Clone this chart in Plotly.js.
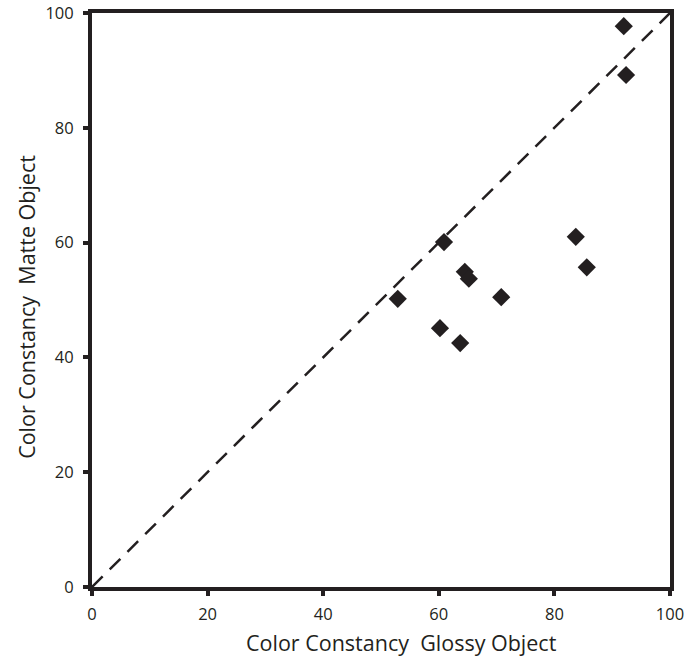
<!DOCTYPE html>
<html>
<head>
<meta charset="utf-8">
<script src="https://cdn.plot.ly/plotly-3.0.1.min.js"></script>
<style>html,body{margin:0;padding:0;background:#fff;}</style>
</head>
<body>
<div id="chart" style="width:697px;height:658px;"></div>
<script>
const glossy = [92.0, 92.4, 60.9, 83.7, 85.6, 64.5, 65.2, 70.8, 52.9, 60.2, 63.7];
const matte  = [97.7, 89.2, 60.1, 61.0, 55.7, 54.9, 53.7, 50.5, 50.2, 45.1, 42.5];
const identityLine = [0, 100];
const tickVals = [0, 20, 40, 60, 80, 100];
const xTitle = 'Color Constancy  Glossy Object';
const yTitle = 'Color Constancy  Matte Object';

const ink = '#231f20';
const font = {family: '"Open Sans", "Liberation Sans", sans-serif', color: ink};

const traces = [
  {x: identityLine, y: identityLine, mode: 'lines', type: 'scatter',
   line: {color: ink, width: 2.5, dash: '15px,10px'}, hoverinfo: 'skip'},
  {x: glossy, y: matte, mode: 'markers', type: 'scatter',
   marker: {symbol: 'diamond', size: 14, color: ink}}
];

const axisCommon = {
  range: [0, 100], tickvals: tickVals, showgrid: false, zeroline: false,
  showline: true, linecolor: ink, linewidth: 4, mirror: true,
  ticks: 'outside', ticklen: 5, tickwidth: 4, tickcolor: ink,
  tickfont: Object.assign({size: 16.5}, font)
};

const layout = {
  width: 697, height: 658,
  margin: {l: 92, r: 27, t: 13, b: 71},
  paper_bgcolor: '#fff', plot_bgcolor: '#fff',
  showlegend: false,
  xaxis: Object.assign({}, axisCommon, {ticklabelstandoff: 4}),
  yaxis: Object.assign({}, axisCommon, {ticklabelstandoff: 6}),
  annotations: [
    {text: xTitle, xref: 'paper', yref: 'paper', x: 0.535, y: -0.097,
     xanchor: 'center', yanchor: 'middle', showarrow: false,
     font: Object.assign({size: 21.5}, font)},
    {text: yTitle, xref: 'paper', yref: 'paper', x: -0.1125, y: 0.488,
     xanchor: 'center', yanchor: 'middle', showarrow: false, textangle: -90,
     font: Object.assign({size: 21.5}, font)}
  ]
};

Plotly.newPlot('chart', traces, layout, {displayModeBar: false, staticPlot: true});
</script>
</body>
</html>
